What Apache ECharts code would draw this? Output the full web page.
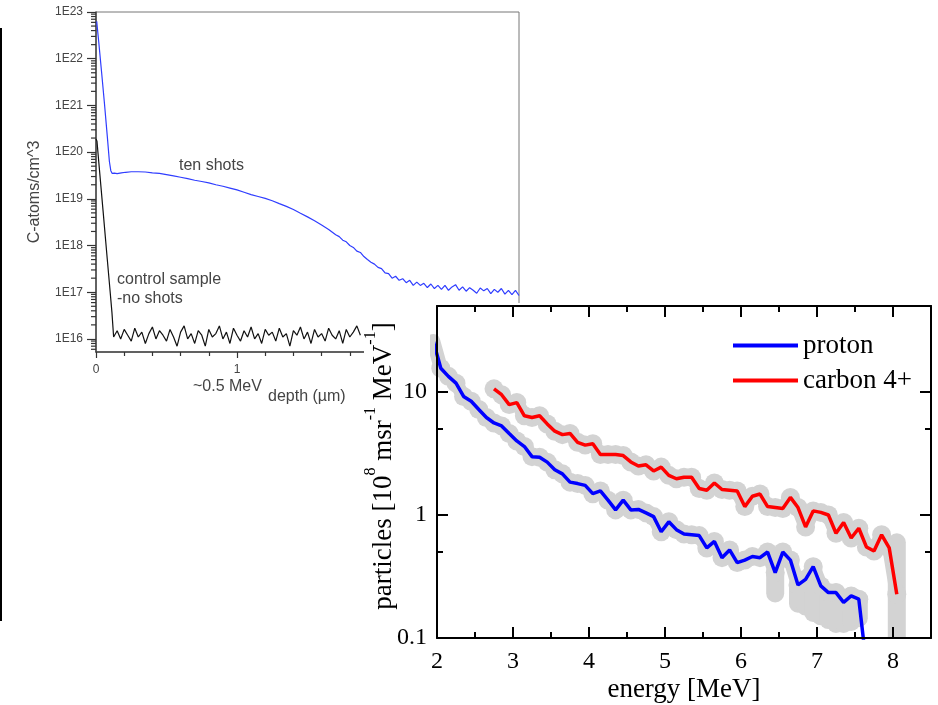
<!DOCTYPE html>
<html>
<head>
<meta charset="utf-8">
<script src="https://cdn.jsdelivr.net/npm/echarts@6/dist/echarts.min.js"></script>
<style>
html, body { margin: 0; padding: 0; background: #fff; }
#chart { width: 938px; height: 705px; }
</style>
</head>
<body>
<div id="chart"></div>
<script>
// left panel: carbon depth profile, [depth um, C-atoms/cm^3]
var tenShots = [
    [0.005, 6.3e22], [0.02, 2.2e22], [0.04, 5.0e21], [0.06, 1.1e21], [0.08, 2.2e20], [0.095, 6.3e19],
    [0.105, 4.0e19], [0.115, 3.5e19], [0.13, 3.55e19], [0.15, 3.45e19], [0.18, 3.6e19], [0.21, 3.7e19],
    [0.25, 3.8e19], [0.30, 3.8e19], [0.35, 3.75e19], [0.40, 3.6e19], [0.45, 3.5e19], [0.50, 3.3e19],
    [0.55, 3.1e19], [0.60, 2.9e19], [0.65, 2.7e19], [0.70, 2.5e19], [0.75, 2.35e19], [0.80, 2.2e19],
    [0.85, 2.0e19], [0.90, 1.86e19], [0.95, 1.7e19], [1.00, 1.55e19], [1.05, 1.38e19], [1.10, 1.23e19],
    [1.15, 1.12e19], [1.20, 1.02e19], [1.25, 9.1e18], [1.30, 7.9e18], [1.35, 6.9e18], [1.40, 5.9e18],
    [1.45, 4.9e18], [1.50, 4.1e18], [1.55, 3.4e18], [1.60, 2.75e18], [1.65, 2.2e18], [1.70, 1.7e18],
    [1.725, 1.55e18], [1.75, 1.3e18], [1.775, 1.2e18], [1.80, 1.0e18], [1.825, 9.1e17], [1.85, 7.6e17],
    [1.875, 7.1e17], [1.90, 5.8e17], [1.925, 5.0e17], [1.95, 4.4e17], [1.975, 4.0e17], [2.00, 3.4e17],
    [2.025, 3.2e17], [2.05, 2.6e17], [2.075, 2.5e17], [2.10, 2.0e17], [2.125, 2.2e17], [2.15, 1.8e17],
    [2.175, 1.95e17], [2.20, 1.6e17], [2.225, 1.8e17], [2.25, 1.4e17], [2.275, 1.65e17], [2.30, 1.4e17],
    [2.325, 1.55e17], [2.35, 1.26e17], [2.375, 1.5e17], [2.40, 1.2e17], [2.425, 1.4e17], [2.45, 1.15e17],
    [2.475, 1.4e17], [2.50, 1.1e17], [2.525, 1.3e17], [2.55, 1.45e17], [2.575, 1.1e17], [2.60, 1.3e17],
    [2.625, 1.05e17], [2.65, 1.25e17], [2.675, 1.1e17], [2.70, 9.5e16], [2.725, 1.23e17], [2.75, 1.07e17],
    [2.775, 1.2e17], [2.80, 9.3e16], [2.825, 1.15e17], [2.85, 1.0e17], [2.875, 1.2e17], [2.90, 9.1e16],
    [2.925, 1.1e17], [2.95, 8.9e16], [2.975, 1.1e17], [3.00, 8.5e16]
];
var controlSample = [
    [0.0, 1.9e20], [0.007, 1.7e20], [0.02, 6.0e19], [0.05, 5.6e18], [0.08, 5.1e17], [0.10, 1.05e17],
    [0.113, 3.7e16], [0.125, 1.1e16], [0.15, 1.5e16], [0.175, 1.0e16], [0.20, 1.6e16], [0.225, 1.2e16],
    [0.25, 0.9e16], [0.275, 1.7e16], [0.30, 1.1e16], [0.325, 1.4e16], [0.35, 0.8e16], [0.375, 1.3e16],
    [0.40, 1.8e16], [0.425, 1.0e16], [0.45, 1.5e16], [0.475, 1.2e16], [0.50, 0.9e16], [0.525, 1.6e16],
    [0.55, 1.1e16], [0.575, 0.7e16], [0.60, 1.4e16], [0.625, 1.9e16], [0.65, 1.0e16], [0.675, 1.3e16],
    [0.70, 0.8e16], [0.725, 1.5e16], [0.75, 1.2e16], [0.775, 0.7e16], [0.80, 1.6e16], [0.825, 1.1e16],
    [0.85, 1.3e16], [0.875, 1.9e16], [0.90, 1.0e16], [0.925, 1.4e16], [0.95, 0.8e16], [0.975, 1.7e16],
    [1.00, 1.2e16], [1.025, 0.9e16], [1.05, 1.5e16], [1.075, 1.1e16], [1.10, 1.8e16], [1.125, 1.0e16],
    [1.15, 1.3e16], [1.175, 0.8e16], [1.20, 1.6e16], [1.225, 1.2e16], [1.25, 1.4e16], [1.275, 0.9e16],
    [1.30, 1.7e16], [1.325, 1.1e16], [1.35, 1.3e16], [1.375, 0.7e16], [1.40, 1.5e16], [1.425, 1.2e16],
    [1.45, 1.8e16], [1.475, 1.0e16], [1.50, 1.4e16], [1.525, 0.8e16], [1.55, 1.6e16], [1.575, 1.1e16],
    [1.60, 1.3e16], [1.625, 0.9e16], [1.65, 1.7e16], [1.675, 1.2e16], [1.70, 1.0e16], [1.725, 1.5e16],
    [1.75, 0.8e16], [1.775, 1.6e16], [1.80, 1.1e16], [1.825, 1.4e16], [1.85, 1.9e16], [1.875, 1.2e16]
];
var depthMin = 0, depthMax = 3;
var concMin = 5.25e15, concMax = 1e23;

// right panel: ion spectra, 10^8 /msr/MeV
var protonEnergy = [1.95, 2.05, 2.15, 2.25, 2.35, 2.45, 2.55, 2.65, 2.75, 2.85, 2.95, 3.05, 3.15, 3.25, 3.35,
    3.45, 3.55, 3.65, 3.75, 3.85, 3.95, 4.05, 4.15, 4.25, 4.35, 4.45, 4.55, 4.65, 4.75, 4.85, 4.95, 5.05,
    5.15, 5.25, 5.35, 5.45, 5.55, 5.65, 5.75, 5.85, 5.95, 6.05, 6.15, 6.25, 6.35, 6.45, 6.55, 6.65, 6.75,
    6.85, 6.95, 7.05, 7.15, 7.25, 7.35, 7.45, 7.55];
var protonFlux = [26, 15.6, 13.4, 11.8, 9.2, 8.4, 7.2, 6.2, 5.6, 5.3, 4.6, 4.0, 3.6, 2.98, 2.95, 2.69, 2.33,
    2.16, 1.85, 1.80, 1.74, 1.49, 1.57, 1.32, 1.10, 1.32, 1.10, 1.11, 1.04, 0.97, 0.73, 0.88, 0.76, 0.70,
    0.69, 0.68, 0.54, 0.61, 0.45, 0.52, 0.41, 0.43, 0.46, 0.45, 0.50, 0.34, 0.50, 0.43, 0.27, 0.30, 0.38,
    0.265, 0.234, 0.234, 0.195, 0.22, 0.207];
var protonCutoff = [7.65, 0.06];
var carbonEnergy = [2.75, 2.85, 2.95, 3.05, 3.15, 3.25, 3.35, 3.45, 3.55, 3.65, 3.75, 3.85, 3.95, 4.05, 4.15,
    4.25, 4.35, 4.45, 4.55, 4.65, 4.75, 4.85, 4.95, 5.05, 5.15, 5.25, 5.35, 5.45, 5.55, 5.65, 5.75, 5.85,
    5.95, 6.05, 6.15, 6.25, 6.35, 6.45, 6.55, 6.65, 6.75, 6.85, 6.95, 7.05, 7.15, 7.25, 7.35, 7.45, 7.55,
    7.65, 7.75, 7.85, 7.95, 8.05];
var carbonFlux = [10.6, 9.5, 7.9, 8.2, 6.4, 6.2, 6.4, 5.5, 4.8, 4.5, 4.6, 3.9, 3.7, 3.8, 3.1, 3.1, 3.1, 3.04,
    2.7, 2.5, 2.56, 2.28, 2.45, 2.1, 1.97, 2.03, 2.03, 1.64, 1.59, 1.82, 1.61, 1.59, 1.57, 1.17, 1.42, 1.48,
    1.17, 1.15, 1.13, 1.39, 1.15, 0.80, 1.08, 1.05, 1.0, 0.71, 0.87, 0.65, 0.78, 0.55, 0.51, 0.69, 0.54, 0.227];
// [energy, low, high] of the wider error bars
var protonErrors = [[6.45, 0.23, 0.34], [6.75, 0.19, 0.27], [6.85, 0.18, 0.30], [6.95, 0.16, 0.38],
    [7.05, 0.15, 0.265], [7.15, 0.14, 0.234], [7.25, 0.13, 0.234], [7.35, 0.13, 0.195], [7.45, 0.135, 0.22],
    [7.55, 0.145, 0.207]];
var carbonErrors = [[8.05, 0.05, 0.6]];
var energyMin = 2, energyMax = 8.5;
var fluxMin = 0.1, fluxMax = 50;
var energyMinorTicks = [2.5, 3.5, 4.5, 5.5, 6.5, 7.5];
var fluxMinorTicks = [0.5, 5];

function zip(xs, ys) {
    return xs.map(function (x, i) { return [x, ys[i]]; });
}
var protonData = zip(protonEnergy, protonFlux);
var carbonData = zip(carbonEnergy, carbonFlux);

// log minor ticks 2..9 for the left axis
var concMinor = [];
for (var n = 15; n < 23; n++) {
    for (var k = 2; k < 10; k++) {
        var v = k * Math.pow(10, n);
        if (v >= concMin && v <= concMax) concMinor.push(v);
    }
}

var GRAY = '#d3d3d3';
var serif = 'Liberation Serif';
var sans = 'Liberation Sans';

function tickLine(x1, y1, x2, y2) {
    return {type: 'line', shape: {x1: x1, y1: y1, x2: x2, y2: y2}, style: {stroke: '#000', lineWidth: 2}};
}

function renderErrorBar(params, api) {
    var top = api.coord([api.value(0), api.value(2)]);
    var bot = api.coord([api.value(0), api.value(1)]);
    var w = 18;
    return {
        type: 'rect',
        shape: {x: top[0] - w / 2, y: top[1] - w / 2, width: w, height: bot[1] - top[1] + w, r: w / 2},
        style: {fill: GRAY}
    };
}

var chart = echarts.init(document.getElementById('chart'));
var option = {
    animation: false,
    backgroundColor: '#fff',
    grid: [
        {left: 96, top: 12, width: 423, height: 340, show: true, borderColor: '#777', borderWidth: 1},
        {left: 437, top: 306, width: 494, height: 332}
    ],
    legend: {
        orient: 'vertical', left: 733, top: 332, padding: 0, itemGap: 8,
        itemWidth: 65, itemHeight: 4, icon: 'rect', selectedMode: false, z: 12,
        data: ['proton', 'carbon 4+'],
        textStyle: {fontFamily: serif, fontSize: 27, color: '#000'}
    },
    xAxis: [
        {
            gridIndex: 0, type: 'value', min: depthMin, max: depthMax, interval: 1, z: 0,
            axisLine: {lineStyle: {color: '#444', width: 1.5}},
            axisTick: {length: 6, lineStyle: {color: '#333', width: 1.2}},
            minorTick: {show: true, splitNumber: 5, length: 4, lineStyle: {color: '#333', width: 1.2}},
            axisLabel: {color: '#444', fontSize: 12, fontFamily: sans, margin: 12},
            splitLine: {show: false}
        },
        {
            gridIndex: 1, type: 'value', position: 'bottom', min: energyMin, max: energyMax, interval: 1, z: 10,
            axisLine: {lineStyle: {color: '#000', width: 2}},
            axisTick: {inside: true, length: 11, lineStyle: {color: '#000', width: 2}},
            axisLabel: {color: '#000', fontSize: 24, fontFamily: serif, margin: 12, showMaxLabel: false},
            splitLine: {show: false},
            name: 'energy [MeV]', nameLocation: 'middle', nameGap: 38,
            nameTextStyle: {color: '#000', fontSize: 27, fontFamily: serif}
        },
        {
            gridIndex: 1, type: 'value', position: 'top', min: energyMin, max: energyMax, interval: 1, z: 10,
            axisLine: {lineStyle: {color: '#000', width: 2}},
            axisTick: {inside: true, length: 11, lineStyle: {color: '#000', width: 2}},
            axisLabel: {show: false},
            splitLine: {show: false}
        }
    ],
    yAxis: [
        {
            gridIndex: 0, type: 'log', logBase: 10, min: concMin, max: concMax, z: 0,
            axisLine: {show: true, lineStyle: {color: '#444', width: 1.5}},
            axisTick: {length: 9, lineStyle: {color: '#333', width: 1.2}},
            axisLabel: {
                color: '#444', fontSize: 12, fontFamily: sans, margin: 13, showMinLabel: false,
                formatter: function (v) { return '1E' + Math.round(Math.log10(v)); }
            },
            splitLine: {show: false}
        },
        {
            gridIndex: 1, type: 'log', logBase: 10, position: 'left', min: fluxMin, max: fluxMax, z: 10,
            axisLine: {show: true, lineStyle: {color: '#000', width: 2}},
            axisTick: {inside: true, length: 11, lineStyle: {color: '#000', width: 2}},
            axisLabel: {
                color: '#000', fontSize: 24, fontFamily: serif, margin: 10, showMaxLabel: false,
                formatter: function (v) { return String(+v.toPrecision(2)); }
            },
            splitLine: {show: false}
        },
        {
            gridIndex: 1, type: 'log', logBase: 10, position: 'right', min: fluxMin, max: fluxMax, z: 10,
            axisLine: {show: true, lineStyle: {color: '#000', width: 2}},
            axisTick: {inside: true, length: 11, lineStyle: {color: '#000', width: 2}},
            axisLabel: {show: false},
            splitLine: {show: false}
        }
    ],
    series: [
        {
            name: 'ten shots', type: 'line', xAxisIndex: 0, yAxisIndex: 0, data: tenShots,
            showSymbol: false, z: 2, lineStyle: {color: '#2f3dff', width: 1.2}, itemStyle: {color: '#2f3dff'}
        },
        {
            name: 'control sample', type: 'line', xAxisIndex: 0, yAxisIndex: 0, data: controlSample,
            showSymbol: false, z: 2, lineStyle: {color: '#111', width: 1.2}, itemStyle: {color: '#111'}
        },
        {
            name: 'log minor', type: 'custom', xAxisIndex: 0, yAxisIndex: 0, z: 3, silent: true, clip: false,
            data: concMinor.map(function (v) { return [0, v]; }),
            renderItem: function (params, api) {
                var p = api.coord([0, api.value(1)]);
                return {type: 'line', shape: {x1: p[0] - 5, y1: p[1], x2: p[0], y2: p[1]},
                    style: {stroke: '#333', lineWidth: 1.2}};
            }
        },
        {
            name: 'proton band', type: 'line', xAxisIndex: 1, yAxisIndex: 1, data: protonData, z: 6,
            symbol: 'circle', symbolSize: 19, showSymbol: true, showAllSymbol: true, silent: true,
            lineStyle: {color: GRAY, width: 14, cap: 'round', join: 'round'}, itemStyle: {color: GRAY}
        },
        {
            name: 'carbon band', type: 'line', xAxisIndex: 1, yAxisIndex: 1, data: carbonData, z: 6,
            symbol: 'circle', symbolSize: 19, showSymbol: true, showAllSymbol: true, silent: true,
            lineStyle: {color: GRAY, width: 14, cap: 'round', join: 'round'}, itemStyle: {color: GRAY}
        },
        {
            name: 'proton err', type: 'custom', xAxisIndex: 1, yAxisIndex: 1, z: 6, clip: true, silent: true,
            data: protonErrors, renderItem: renderErrorBar
        },
        {
            name: 'carbon err', type: 'custom', xAxisIndex: 1, yAxisIndex: 1, z: 6, clip: true, silent: true,
            data: carbonErrors, renderItem: renderErrorBar
        },
        {
            name: 'proton', type: 'line', xAxisIndex: 1, yAxisIndex: 1, data: protonData.concat([protonCutoff]),
            showSymbol: false, z: 9, color: '#0000ff', lineStyle: {color: '#0000ff', width: 3.5}
        },
        {
            name: 'carbon 4+', type: 'line', xAxisIndex: 1, yAxisIndex: 1, data: carbonData,
            showSymbol: false, z: 9, color: '#ff0000', lineStyle: {color: '#ff0000', width: 3.5}
        },
        {
            name: 'minor ticks', type: 'custom', xAxisIndex: 1, yAxisIndex: 1, z: 11, silent: true,
            data: [[energyMin, fluxMin]],
            renderItem: function (params, api) {
                var kids = [];
                energyMinorTicks.forEach(function (e) {
                    var b = api.coord([e, fluxMin]), t = api.coord([e, fluxMax]);
                    kids.push(tickLine(b[0], b[1], b[0], b[1] - 6));
                    kids.push(tickLine(t[0], t[1], t[0], t[1] + 6));
                });
                fluxMinorTicks.forEach(function (f) {
                    var l = api.coord([energyMin, f]), r = api.coord([energyMax, f]);
                    kids.push(tickLine(l[0], l[1], l[0] + 6, l[1]));
                    kids.push(tickLine(r[0], r[1], r[0] - 6, r[1]));
                });
                return {type: 'group', children: kids};
            }
        }
    ],
    graphic: [
        {type: 'line', z: 1, shape: {x1: 1, y1: 28, x2: 1, y2: 621}, style: {stroke: '#000', lineWidth: 2}},
        {type: 'text', z: 1, x: 179, y: 166, style: {text: 'ten shots', font: '16px "Liberation Sans"', fill: '#444', verticalAlign: 'middle', textVerticalAlign: 'middle'}},
        {type: 'text', z: 1, x: 117, y: 280, style: {text: 'control sample', font: '16px "Liberation Sans"', fill: '#444', verticalAlign: 'middle', textVerticalAlign: 'middle'}},
        {type: 'text', z: 1, x: 117, y: 299, style: {text: '-no shots', font: '16px "Liberation Sans"', fill: '#444', verticalAlign: 'middle', textVerticalAlign: 'middle'}},
        {type: 'text', z: 1, x: 193, y: 387, style: {text: '~0.5 MeV', font: '16px "Liberation Sans"', fill: '#444', verticalAlign: 'middle', textVerticalAlign: 'middle'}},
        {type: 'text', z: 1, x: 268, y: 397, style: {text: 'depth (\u00b5m)', font: '16px "Liberation Sans"', fill: '#444', verticalAlign: 'middle', textVerticalAlign: 'middle'}},
        {type: 'text', z: 1, x: 35, y: 192, rotation: Math.PI / 2, style: {text: 'C-atoms/cm^3', font: '16px "Liberation Sans"', fill: '#444', align: 'center', textAlign: 'center', verticalAlign: 'middle', textVerticalAlign: 'middle'}},
        // white card of the inset spectrum panel
        {type: 'rect', z: 5, shape: {x: 364, y: 303, width: 574, height: 402}, style: {fill: '#fff'}},
        {
            type: 'text', z: 12, x: 380, y: 466, rotation: Math.PI / 2,
            style: {
                text: '{n|particles [10}{s|8}{n| msr}{s|-1}{n| MeV}{s|-1}{n|]}',
                fill: '#000', align: 'center', textAlign: 'center', verticalAlign: 'middle', textVerticalAlign: 'middle',
                rich: {
                    n: {fontSize: 27, fontFamily: serif, lineHeight: 34, verticalAlign: 'bottom', color: '#000'},
                    s: {fontSize: 16, fontFamily: serif, lineHeight: 16, verticalAlign: 'top', color: '#000'}
                }
            }
        }
    ]
};
chart.setOption(option);
</script>
</body>
</html>
